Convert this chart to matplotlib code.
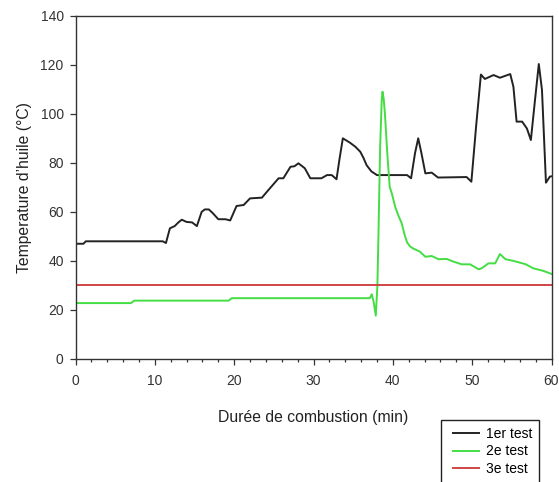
import matplotlib
matplotlib.use("Agg")
import matplotlib.pyplot as plt
from matplotlib.patches import Rectangle
from matplotlib.ticker import MultipleLocator

plt.rcParams['font.family'] = ['Liberation Sans', 'DejaVu Sans']

# ---- data ----
black_t = [0, 1.0, 1.3, 11.0, 11.4, 11.9, 12.5, 13.0, 13.4, 14.0, 14.7, 15.3, 15.9, 16.3, 16.8,
           17.3, 18.0, 18.9, 19.5, 20.3, 21.2, 22.0, 23.5, 24.5, 25.6, 26.2, 27.1, 27.6, 28.1,
           28.9, 29.6, 30.4, 31.0, 31.7, 32.3, 32.9, 33.3, 33.7, 34.6, 35.3, 35.9, 36.3, 36.7,
           37.3, 38.0, 41.8, 42.3, 42.8, 43.2, 43.6, 44.1, 44.9, 45.7, 49.3, 49.9, 50.5, 51.1,
           51.6, 52.7, 53.5, 54.8, 55.2, 55.6, 56.3, 56.9, 57.4, 57.9, 58.4, 58.8, 59.3, 59.8, 60]
black_v = [47, 47, 48, 48, 47.3, 53.3, 54.2, 55.8, 56.8, 55.9, 55.7, 54.2, 60, 61, 61,
           59.5, 57, 57, 56.5, 62.4, 62.8, 65.5, 65.8, 69.6, 73.7, 73.7, 78.4, 78.6, 79.8,
           77.8, 73.7, 73.7, 73.7, 75, 75, 73.3, 82, 90, 88.2, 86.5, 84.5, 82, 79,
           76.5, 75, 75, 73.7, 84, 90, 84, 75.7, 76, 74, 74.2, 72.3, 95, 116,
           114.2, 115.8, 114.7, 116.2, 111, 96.8, 96.8, 94, 89.3, 105, 120.3, 109.7, 71.9, 74.4, 74.5]

green_t = [0, 7.0, 7.4, 19.3, 19.7, 37.1, 37.35, 37.6, 37.85, 38.05, 38.2, 38.4, 38.6, 38.7,
           38.85, 39.0, 39.3, 39.6, 39.9, 40.3, 40.7, 41.1, 41.5, 41.8, 42.2, 42.6, 43.4, 44.1,
           44.9, 45.75, 46.8, 47.65, 48.7, 49.75, 50.8, 51.2, 52.05, 52.9, 53.5, 54.2, 55.2,
           56.7, 57.7, 59.0, 60]
green_v = [22.8, 22.8, 23.8, 23.8, 24.8, 24.8, 26.4, 23, 17.7, 29.5, 52.6, 86.6, 105.6, 109,
           106, 100.2, 83.9, 70.3, 67.2, 62, 58.5, 55.5, 50.5, 47.5, 45.8, 45, 43.8, 41.7,
           42, 40.7, 40.8, 39.7, 38.6, 38.6, 36.6, 37, 39, 39, 42.8, 40.7, 40,
           38.7, 37, 35.9, 34.7]

red_t = [0, 60]
red_v = [30, 30]

labels = ["1er test", "2e test", "3e test"]
colors = ["#222222", "#44dd44", "#d04545"]

W, H = 559, 482
fig = plt.figure(figsize=(W / 100, H / 100), dpi=100)
ax = fig.add_axes([75.5 / W, 1 - 359 / H, (551.5 - 75.5) / W, (359 - 15.7) / H])

l1, = ax.plot(black_t, black_v, color=colors[0], lw=1.4)
l2, = ax.plot(green_t, green_v, color=colors[1], lw=1.4)
l3, = ax.plot(red_t, red_v, color=colors[2], lw=1.4)

ax.set_xlim(0, 60)
ax.set_ylim(0, 140)
ax.xaxis.set_major_locator(MultipleLocator(10))
ax.xaxis.set_minor_locator(MultipleLocator(2))
ax.yaxis.set_major_locator(MultipleLocator(20))
ax.tick_params(axis='both', which='major', direction='out', length=4, width=0.9,
               labelsize=10, colors='#333333')
ax.tick_params(axis='y', which='major', pad=4.5)
ax.tick_params(axis='x', which='major', pad=6.5)
ax.tick_params(axis='x', which='minor', direction='out', length=2.5, width=0.9, colors='#333333')
for s in ax.spines.values():
    s.set_color('#333333')
    s.set_linewidth(1.0)

ax.set_xlabel("Durée de combustion (min)", fontsize=11.3, color='#222222', labelpad=16)
ax.set_ylabel("Temperature d’huile (°C)", fontsize=11.3, color='#222222', labelpad=6)

# legend
fig.legend([l1, l2, l3], labels, loc='upper left', frameon=False,
           bbox_to_anchor=(453 / W, 1 - 427 / H), borderpad=0, borderaxespad=0,
           fontsize=10, handlelength=1.9, handletextpad=0.45, labelspacing=0.25)
fig.patches.append(Rectangle((441 / W, 1 - 486 / H), (539 - 441) / W, (486 - 420) / H,
                             transform=fig.transFigure, fill=False, edgecolor='#222222',
                             linewidth=1.0))

fig.savefig("out.png", dpi=100)
